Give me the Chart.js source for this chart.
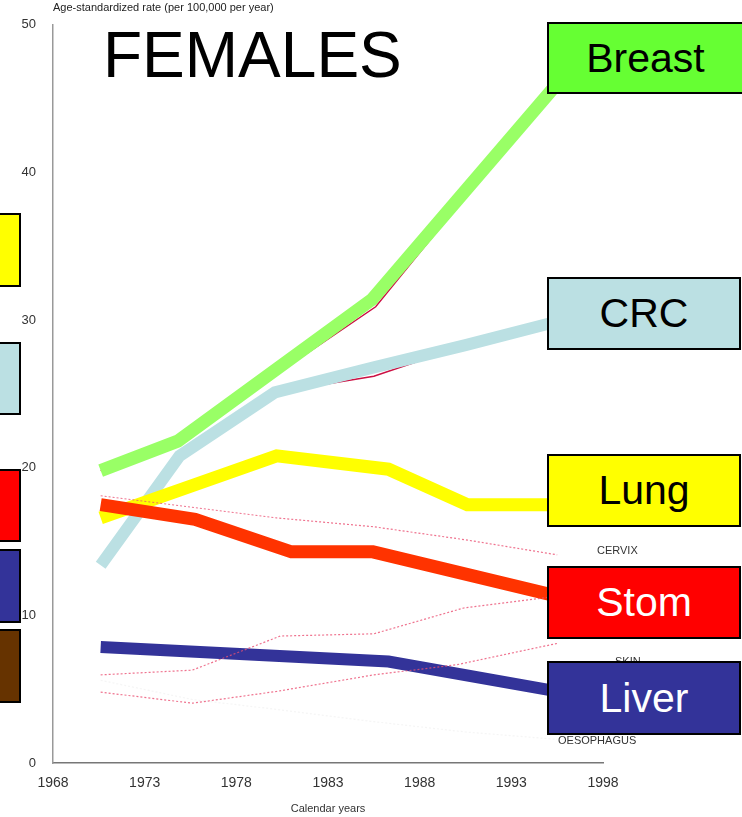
<!DOCTYPE html>
<html><head><meta charset="utf-8">
<script src="https://cdn.jsdelivr.net/npm/chart.js@4.4.1/dist/chart.umd.min.js"></script>
<style>
html,body{margin:0;padding:0;background:#fff;overflow:hidden}
#wrap{position:relative;width:742px;height:817px;overflow:hidden;font-family:"Liberation Sans",Arial,sans-serif}
canvas{position:absolute;left:0;top:0}
.box{position:absolute;box-sizing:border-box;border:2px solid #000;display:flex;align-items:center;justify-content:center;font-size:41px;line-height:41px}
.lbl{position:absolute;font-size:11px;line-height:11px;color:#333;white-space:nowrap}
</style></head>
<body><div id="wrap">
<canvas id="c" width="742" height="817"></canvas>
<div class="lbl" style="left:53px;top:2px;color:#222">Age-standardized rate (per 100,000 per year)</div>
<div style="position:absolute;left:103px;top:23px;font-size:64px;line-height:64px;color:#000;white-space:nowrap">FEMALES</div>
<div class="lbl" style="left:597px;top:545px">CERVIX</div>
<div class="lbl" style="left:615px;top:656px">SKIN</div>
<div class="lbl" style="left:558px;top:735px">OESOPHAGUS</div>
<div class="box" style="left:-60px;top:213px;width:81px;height:74px;background:#FFFF00"></div>
<div class="box" style="left:-60px;top:342px;width:81px;height:73px;background:#BBE0E3"></div>
<div class="box" style="left:-60px;top:469px;width:81px;height:73px;background:#FF0000"></div>
<div class="box" style="left:-60px;top:549px;width:81px;height:74px;background:#333399"></div>
<div class="box" style="left:-60px;top:629px;width:81px;height:74px;background:#663300"></div>
<div class="box" style="left:547px;top:22px;width:197px;height:72px;background:#66FF33;color:#000">Breast</div>
<div class="box" style="left:547px;top:277px;width:194px;height:73px;background:#BBE0E3;color:#000">CRC</div>
<div class="box" style="left:547px;top:454px;width:194px;height:73px;background:#FFFF00;color:#000">Lung</div>
<div class="box" style="left:547px;top:566px;width:194px;height:73px;background:#FF0000;color:#fff">Stom</div>
<div class="box" style="left:547px;top:661px;width:194px;height:74px;background:#333399;color:#fff">Liver</div>
</div>
<script>
const xTicks = [1968, 1973, 1978, 1983, 1988, 1993, 1998];
const yTicks = [0, 10, 20, 30, 40, 50];

const breastYears = [1970.6, 1974.8, 1985.4, 1995.5];
const breastRates = [19.8, 21.8, 31.4, 46.0];
const breastUnderYears = [1970.6, 1974.8, 1985.6, 1995.5];
const breastUnderRates = [19.8, 21.8, 30.9, 46.0];

const crcYears = [1970.6, 1974.9, 1980.1, 1985.5, 1990.5, 1995.5];
const crcRates = [13.4, 20.8, 25.1, 26.8, 28.3, 29.9];
const crcUnderYears = [1980.1, 1985.5, 1990.5];
const crcUnderRates = [25.1, 26.2, 28.3];

const lungYears = [1970.6, 1980.2, 1986.3, 1990.6, 1995.5];
const lungRates = [16.6, 20.8, 19.9, 17.5, 17.5];

const stomYears = [1970.6, 1975.75, 1981.0, 1985.45, 1995.5];
const stomRates = [17.5, 16.5, 14.3, 14.3, 11.3];

const liverYears = [1970.6, 1986.3, 1995.5];
const liverRates = [7.85, 6.87, 4.85];

const cervixYears = [1970.6, 1980.2, 1985.5, 1990.6, 1995.5];
const cervixRates = [18.1, 16.6, 16.0, 15.1, 14.1];

const skinYears = [1970.6, 1975.6, 1980.4, 1985.5, 1990.4, 1995.5];
const skinRates = [5.97, 6.29, 8.6, 8.75, 10.5, 11.3];

const otherYears = [1970.6, 1975.6, 1980.2, 1985.5, 1990.0, 1995.5];
const otherRates = [4.8, 4.05, 4.85, 5.97, 6.65, 8.1];

const oesoYears = [1970.6, 1975.6, 1980.4, 1985.5, 1990.5, 1995.5];
const oesoRates = [5.6, 4.3, 3.6, 2.8, 2.1, 1.6];

function pts(xs, ys) { return xs.map((x, i) => ({ x: x, y: ys[i] })); }
function thick(label, xs, ys, color, w) {
  return { label, data: pts(xs, ys), borderColor: color, backgroundColor: color, borderWidth: w,
    borderCapStyle: 'butt', borderJoinStyle: 'miter', pointRadius: 0, tension: 0, fill: false };
}
function dotted(label, xs, ys, color) {
  return { label, data: pts(xs, ys), borderColor: color, backgroundColor: color, borderWidth: 1.2,
    borderDash: [2, 2], pointRadius: 0, tension: 0, fill: false };
}

const datasets = [
  dotted('Cervix', cervixYears, cervixRates, 'rgba(235,80,115,0.8)'),
  dotted('Skin', skinYears, skinRates, 'rgba(235,80,115,0.8)'),
  dotted('Other', otherYears, otherRates, 'rgba(235,80,115,0.8)'),
  dotted('Oesophagus', oesoYears, oesoRates, 'rgba(238,238,238,0.6)'),
  thick('Breast', breastYears, breastRates, '#99FF66', 13),
  thick('Stomach', stomYears, stomRates, '#FF3300', 13),
  thick('Lung', lungYears, lungRates, '#FFFF00', 13),
  thick('CRC', crcYears, crcRates, '#BBE0E3', 12),
  thick('Liver', liverYears, liverRates, '#333399', 12),
  thick('BreastUnder', breastUnderYears, breastUnderRates, '#CC1144', 1.5),
  thick('CRCUnder', crcUnderYears, crcUnderRates, '#CC1144', 1.5)
];

new Chart(document.getElementById('c'), {
  type: 'line',
  data: { datasets },
  options: {
    responsive: false,
    animation: false,
    devicePixelRatio: 1,
    layout: { padding: { left: 0, top: 18, right: 139, bottom: 0 } },
    plugins: { legend: { display: false }, tooltip: { enabled: false } },
    scales: {
      x: {
        type: 'linear', min: 1968, max: 1998,
        afterFit: (s) => { s.height = 54; },
        afterBuildTicks: (s) => { s.ticks = xTicks.map(v => ({ value: v })); },
        grid: { display: false, drawTicks: false },
        border: { display: true, color: '#777', width: 1.5 },
        ticks: { padding: 12, color: '#333', font: { family: 'Liberation Sans', size: 14 },
          callback: (v) => String(v), maxRotation: 0, autoSkip: false },
        title: { display: true, text: 'Calendar years', color: '#333',
          font: { family: 'Liberation Sans', size: 11 }, padding: { top: 0, bottom: 1 } }
      },
      y: {
        type: 'linear', min: 0, max: 50,
        afterFit: (s) => { s.width = 53; },
        afterBuildTicks: (s) => { s.ticks = yTicks.map(v => ({ value: v })); },
        grid: { display: false, drawTicks: false },
        border: { display: true, color: '#999', width: 1.5 },
        ticks: { padding: 17, color: '#333', font: { family: 'Liberation Sans', size: 13 },
          callback: (v) => String(v) }
      }
    }
  }
});
</script>
</body></html>
